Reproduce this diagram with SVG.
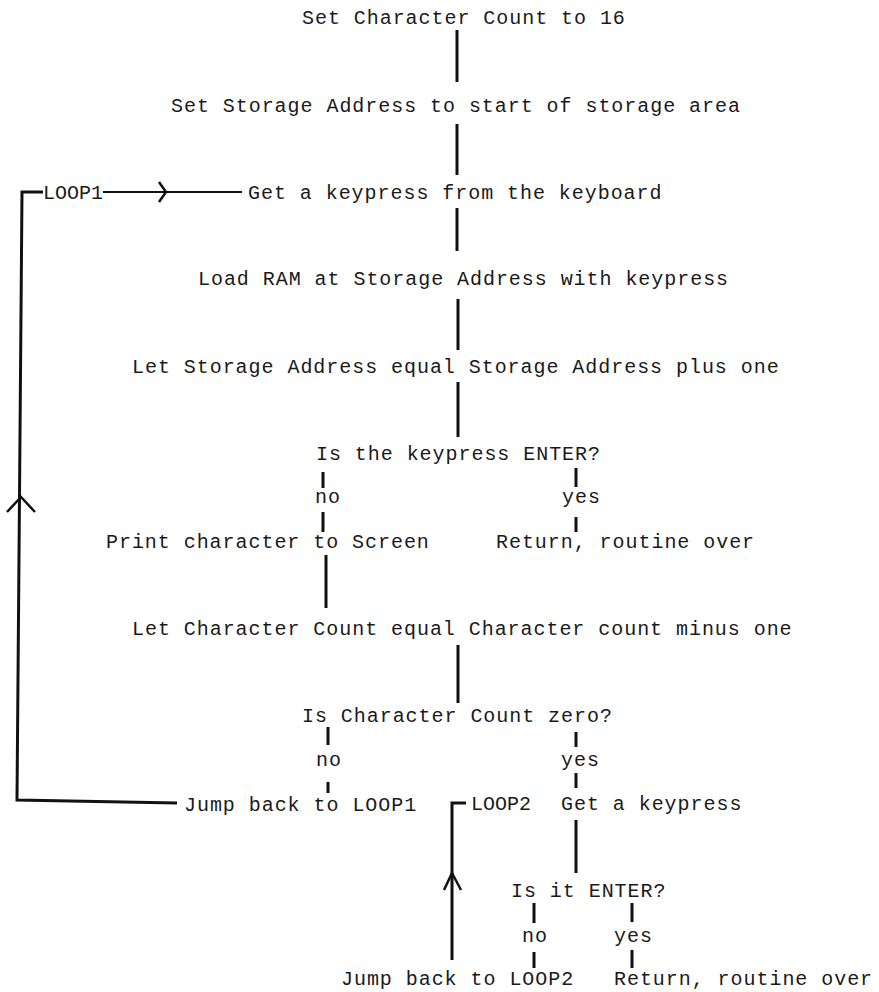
<svg xmlns="http://www.w3.org/2000/svg" width="879" height="992" viewBox="0 0 879 992">
  <style>
    text { font-family: "Liberation Mono", "Courier New", monospace; font-size: 20px; letter-spacing: 0.95px; fill: #1a1a1a; }
    .lbl { letter-spacing: 0px; }
    .flow { stroke: #111; stroke-width: 3; fill: none; stroke-linecap: butt; }
    .thin { stroke: #111; stroke-width: 2; fill: none; }
    .head { stroke: #111; stroke-width: 2.5; fill: none; stroke-linejoin: miter; }
  </style>
  <rect width="879" height="992" fill="#fff"/>

  <!-- flow lines, loop returns and their arrowheads -->
  <g id="connectors">
    <line class="flow" x1="457" y1="30" x2="457" y2="82"/>
    <line class="flow" x1="457" y1="124" x2="457" y2="175"/>
    <line class="flow" x1="457" y1="208" x2="457" y2="251"/>
    <line class="flow" x1="458" y1="299" x2="458" y2="350"/>
    <line class="flow" x1="458" y1="382" x2="458" y2="437"/>
    <!-- ENTER test branches -->
    <line class="flow" x1="323" y1="472" x2="323" y2="488"/>
    <line class="flow" x1="323" y1="512" x2="323" y2="532"/>
    <line class="flow" x1="576" y1="468" x2="576" y2="487"/>
    <line class="flow" x1="576" y1="517" x2="576" y2="532"/>
    <line class="flow" x1="326" y1="555" x2="326" y2="608"/>
    <line class="flow" x1="458" y1="645" x2="458" y2="703"/>
    <!-- count test branches -->
    <line class="flow" x1="328" y1="727" x2="328" y2="745"/>
    <line class="flow" x1="328" y1="782" x2="328" y2="793"/>
    <line class="flow" x1="576" y1="732" x2="576" y2="747"/>
    <line class="flow" x1="576" y1="773" x2="576" y2="788"/>
    <line class="flow" x1="576" y1="820" x2="576" y2="873"/>
    <!-- second ENTER test branches -->
    <line class="flow" x1="534" y1="903" x2="534" y2="923"/>
    <line class="flow" x1="534" y1="952" x2="534" y2="968"/>
    <line class="flow" x1="632" y1="903" x2="632" y2="922"/>
    <line class="flow" x1="632" y1="950" x2="632" y2="968"/>

    <!-- LOOP1 return path -->
    <polyline class="flow" points="177,803 17,800 22,192 43,192"/>
    <polyline class="head" points="7,512 21,497 35,512"/>
    <line class="thin" x1="103" y1="192" x2="242" y2="192"/>
    <polyline class="head" points="159,182 166,192 159,202"/>

    <!-- LOOP2 return path -->
    <polyline class="flow" points="452,960 452,803 466,803"/>
    <polyline class="head" points="444,890 452,873 461,890"/>
  </g>

  <g id="set-count"><text x="302" y="24">Set Character Count to 16</text></g>
  <g id="set-address"><text x="171" y="112">Set Storage Address to start of storage area</text></g>
  <g id="loop1"><text class="lbl" x="43" y="199">LOOP1</text></g>
  <g id="get-key"><text x="248" y="199">Get a keypress from the keyboard</text></g>
  <g id="load-ram"><text x="198" y="285">Load RAM at Storage Address with keypress</text></g>
  <g id="inc-address"><text x="132" y="373">Let Storage Address equal Storage Address plus one</text></g>
  <g id="test-enter"><text x="316" y="460">Is the keypress ENTER?</text></g>
  <g id="test-enter-no"><text x="315" y="503">no</text></g>
  <g id="test-enter-yes"><text x="562" y="503">yes</text></g>
  <g id="print-char"><text x="106" y="548">Print character to Screen</text></g>
  <g id="return-1"><text x="496" y="548">Return, routine over</text></g>
  <g id="dec-count"><text x="132" y="635">Let Character Count equal Character count minus one</text></g>
  <g id="test-zero"><text x="302" y="722">Is Character Count zero?</text></g>
  <g id="test-zero-no"><text x="316" y="766">no</text></g>
  <g id="test-zero-yes"><text x="561" y="766">yes</text></g>
  <g id="jump-loop1"><text x="184" y="811">Jump back to LOOP1</text></g>
  <g id="loop2"><text class="lbl" x="471" y="810">LOOP2</text></g>
  <g id="get-key-2"><text x="561" y="810">Get a keypress</text></g>
  <g id="test-enter-2"><text x="511" y="897">Is it ENTER?</text></g>
  <g id="test-enter-2-no"><text x="522" y="942">no</text></g>
  <g id="test-enter-2-yes"><text x="614" y="942">yes</text></g>
  <g id="jump-loop2"><text x="341" y="985">Jump back to LOOP2</text></g>
  <g id="return-2"><text x="614" y="985">Return, routine over</text></g>
</svg>
